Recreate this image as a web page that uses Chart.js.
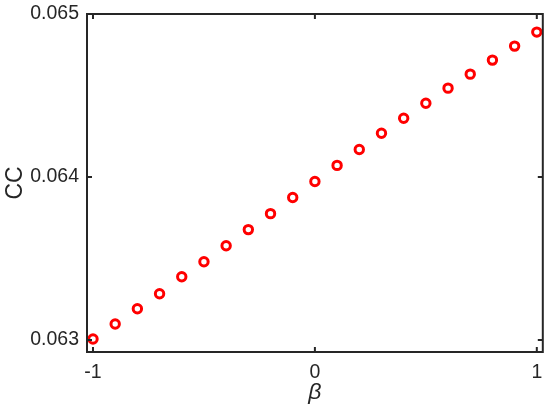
<!DOCTYPE html>
<html>
<head>
<meta charset="utf-8">
<script src="https://cdn.jsdelivr.net/npm/chart.js@4/dist/chart.umd.min.js"></script>
<style>
  html, body { margin: 0; padding: 0; background: #fff; }
  #wrap { width: 550px; height: 413px; }
</style>
</head>
<body>
<div id="wrap"><canvas id="myChart"></canvas></div>
<script>
const betaValues = [-1, -0.9, -0.8, -0.7, -0.6, -0.5, -0.4, -0.3, -0.2, -0.1, 0, 0.1, 0.2, 0.3, 0.4, 0.5, 0.6, 0.7, 0.8, 0.9, 1];
const ccValues = [0.063006, 0.063098, 0.063191, 0.063283, 0.063388, 0.063480, 0.063578, 0.063677, 0.063775, 0.063874, 0.063972,
                  0.064071, 0.064169, 0.064268, 0.064360, 0.064452, 0.064545, 0.064631, 0.064717, 0.064803, 0.064889];
const xTicks = [-1, 0, 1];
const yTicks = [0.063, 0.064, 0.065];

const axisColor = '#262626';
const font = "'Liberation Sans', Arial, sans-serif";

// MATLAB style box with inward ticks on all four sides
const boxPlugin = {
  id: 'box',
  afterDraw(chart) {
    const ctx = chart.ctx;
    const a = chart.chartArea;
    const xs = chart.scales.x, ys = chart.scales.y;
    const len = 5;
    ctx.save();
    ctx.strokeStyle = axisColor;
    ctx.lineWidth = 2;
    ctx.beginPath();
    xTicks.forEach(v => {
      const px = xs.getPixelForValue(v);
      ctx.moveTo(px, a.bottom); ctx.lineTo(px, a.bottom - len);
      ctx.moveTo(px, a.top); ctx.lineTo(px, a.top + len);
    });
    yTicks.forEach(v => {
      const py = ys.getPixelForValue(v);
      ctx.moveTo(a.left, py); ctx.lineTo(a.left + len, py);
      ctx.moveTo(a.right, py); ctx.lineTo(a.right - len, py);
    });
    ctx.stroke();
    ctx.strokeRect(a.left, a.top, a.right - a.left, a.bottom - a.top);
    ctx.restore();
  }
};

const chart1 = document.getElementById('myChart').getContext('2d');

const myChart = new Chart(chart1, {
  type: 'scatter',
  data: {
    datasets: [{
      data: betaValues.map((b, i) => ({ x: b, y: ccValues[i] })),
      pointStyle: 'circle',
      pointRadius: 4.2,
      pointHoverRadius: 4.2,
      borderWidth: 3,
      borderColor: '#ff0000',
      backgroundColor: 'rgba(255,255,255,0)'
    }]
  },
  options: {
    responsive: true,
    maintainAspectRatio: false,
    animation: false,
    layout: { padding: { top: 14, right: 7, left: 0, bottom: 0 } },
    plugins: {
      legend: { display: false },
      tooltip: { enabled: false }
    },
    scales: {
      x: {
        type: 'linear',
        min: -1.027,
        max: 1.027,
        afterBuildTicks: s => { s.ticks = xTicks.map(v => ({ value: v })); },
        afterFit: s => { s.height = 61; s.paddingLeft = 0; s.paddingRight = 0; },
        grid: { display: false, drawTicks: false },
        border: { display: false },
        ticks: { color: axisColor, font: { family: font, size: 19.5 }, padding: 9, maxRotation: 0 },
        title: { display: true, text: 'β', color: axisColor, padding: { top: 0, bottom: 7 },
                 font: { family: font, size: 23, style: 'italic' } }
      },
      y: {
        type: 'linear',
        min: 0.062926,
        max: 0.065,
        afterBuildTicks: s => { s.ticks = yTicks.map(v => ({ value: v })); },
        afterFit: s => { s.width = 87; s.paddingTop = 0; s.paddingBottom = 0; },
        grid: { display: false, drawTicks: false },
        border: { display: false },
        ticks: { color: axisColor, font: { family: font, size: 19.5 }, padding: 8,
                 callback: v => v.toFixed(3) },
        title: { display: true, text: 'CC', color: axisColor, padding: { top: 2, bottom: 0 },
                 font: { family: font, size: 23 } }
      }
    }
  },
  plugins: [boxPlugin]
});
</script>
</body>
</html>
